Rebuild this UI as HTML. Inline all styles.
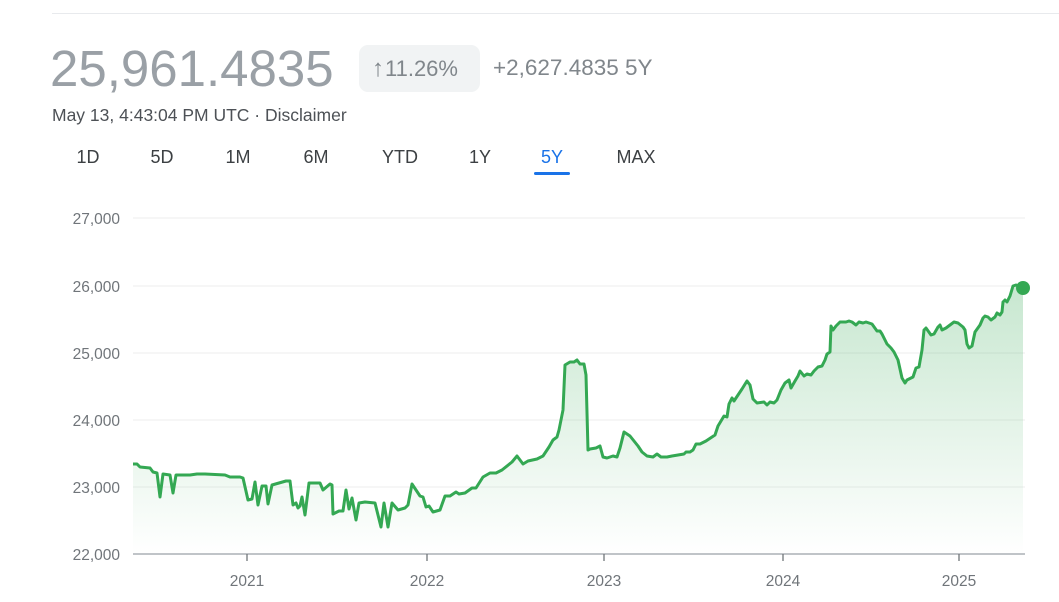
<!DOCTYPE html>
<html><head><meta charset="utf-8"><style>
body{margin:0;width:1059px;height:602px;background:#fff;font-family:"Liberation Sans",Arial,sans-serif;position:relative;overflow:hidden}
.a{position:absolute;white-space:nowrap}
.tab{position:absolute;top:147px;font-size:18px;color:#3c4043;transform:translateX(-50%)}
</style></head><body>
<div class="a" style="left:52px;right:0;top:13px;height:1px;background:#e8eaed"></div>
<div class="a" style="left:50px;top:39px;font-size:51px;color:#9aa0a6">25,961.4835</div>
<div class="a" style="left:359px;top:45px;width:121px;height:47px;border-radius:9px;background:#f1f3f4"></div>
<div class="a" style="left:372px;top:55px;font-size:22px;color:#80868b"><span style="font-size:24px;margin-right:1px">↑</span>11.26%</div>
<div class="a" style="left:493px;top:55px;font-size:22.5px;color:#80868b">+2,627.4835 5Y</div>
<div class="a" style="left:52px;top:105px;font-size:17.5px;color:#4d5156">May 13, 4:43:04 PM UTC · Disclaimer</div>
<div class="tab" style="left:88px">1D</div>
<div class="tab" style="left:162px">5D</div>
<div class="tab" style="left:238px">1M</div>
<div class="tab" style="left:316px">6M</div>
<div class="tab" style="left:400px">YTD</div>
<div class="tab" style="left:480px">1Y</div>
<div class="tab" style="left:552px;color:#1a73e8">5Y</div>
<div class="tab" style="left:636px">MAX</div>
<div class="a" style="left:534px;top:172px;width:36px;height:3px;border-radius:2px;background:#1a73e8"></div>
<svg class="a" style="left:0;top:0" width="1059" height="602">
<defs><linearGradient id="g" x1="0" y1="280" x2="0" y2="554" gradientUnits="userSpaceOnUse"><stop offset="0" stop-color="#34a853" stop-opacity="0.28"/><stop offset="1" stop-color="#34a853" stop-opacity="0"/></linearGradient></defs>
<g stroke="#eeeeee" stroke-width="1">
<line x1="133" x2="1025" y1="218" y2="218"/><line x1="133" x2="1025" y1="286" y2="286"/><line x1="133" x2="1025" y1="353" y2="353"/><line x1="133" x2="1025" y1="420" y2="420"/><line x1="133" x2="1025" y1="487" y2="487"/>
</g>
<g font-size="15.5" fill="#70757a" text-anchor="end">
<text x="120" y="224">27,000</text><text x="120" y="292">26,000</text><text x="120" y="359">25,000</text><text x="120" y="426">24,000</text><text x="120" y="493">23,000</text><text x="120" y="560">22,000</text>
</g>
<g font-size="15.5" fill="#70757a" text-anchor="middle">
<text x="247" y="586">2021</text><text x="427" y="586">2022</text><text x="604" y="586">2023</text><text x="783" y="586">2024</text><text x="959" y="586">2025</text>
</g>
<polygon fill="url(#g)" points="133,554 133,464 137,464 140,467 150,468 153,472 157,473 160,497 163,474 170,475 173,493 176,475 190,475 197,474 205,474 225,475 230,477 240,477 243,478 248,500 252,499 255,482 258,505 262,486 266,486 268,504 272,485 286,481 290,481 293,505 296,503 298,508 300,506 302,497 305,515 309,483 320,483 323,490 330,484 332,485 333,514 339,511 343,511 346,490 349,509 352,498 356,520 359,503 365,502 375,503 381,527 384,503 388,527 392,503 398,510 405,508 408,505 412,484 416,490 420,496 423,497 426,507 429,506 433,512 440,510 445,496 450,496 456,492 459,494 465,493 472,488 476,488 483,477 490,473 496,473 502,470 512,462 517,456 523,464 528,461 537,459 543,456 549,447 553,440 557,437 559,430 563,410 565,365 570,362 574,362 577,360 580,364 584,364 586,375 588,450 590,449 596,448 600,446 603,457 607,458 613,456 617,457 620,448 624,432 630,436 634,441 638,446 642,452 647,456 653,457 657,454 661,457 667,457 672,456 678,455 684,454 686,452 690,452 693,450 696,444 700,444 706,441 712,437 715,435 718,426 721,421 724,416 727,417 729,404 732,398 734,401 742,389 747,381 750,385 753,399 757,403 764,402 767,405 770,402 774,403 777,400 781,390 785,383 789,380 791,388 795,381 798,376 800,371 804,376 807,374 811,375 814,371 818,367 822,366 825,360 827,354 830,352 831,326 833,330 836,326 840,322 846,322 849,321 852,322 856,325 859,322 863,323 866,322 872,324 877,331 880,331 882,334 887,344 891,348 894,352 898,360 900,369 902,378 905,383 907,380 913,377 916,368 919,367 922,350 924,330 926,328 931,335 934,334 938,327 940,325 942,330 946,328 950,325 954,322 958,323 963,327 965,330 967,344 969,348 972,346 975,332 980,325 983,318 985,316 988,317 991,320 995,317 997,313 1000,315 1002,312 1003,302 1005,300 1007,302 1010,296 1013,286 1016,285 1023,288 1023,554"/>
<polyline fill="none" stroke="#34a853" stroke-width="3" stroke-linejoin="round" points="133,464 137,464 140,467 150,468 153,472 157,473 160,497 163,474 170,475 173,493 176,475 190,475 197,474 205,474 225,475 230,477 240,477 243,478 248,500 252,499 255,482 258,505 262,486 266,486 268,504 272,485 286,481 290,481 293,505 296,503 298,508 300,506 302,497 305,515 309,483 320,483 323,490 330,484 332,485 333,514 339,511 343,511 346,490 349,509 352,498 356,520 359,503 365,502 375,503 381,527 384,503 388,527 392,503 398,510 405,508 408,505 412,484 416,490 420,496 423,497 426,507 429,506 433,512 440,510 445,496 450,496 456,492 459,494 465,493 472,488 476,488 483,477 490,473 496,473 502,470 512,462 517,456 523,464 528,461 537,459 543,456 549,447 553,440 557,437 559,430 563,410 565,365 570,362 574,362 577,360 580,364 584,364 586,375 588,450 590,449 596,448 600,446 603,457 607,458 613,456 617,457 620,448 624,432 630,436 634,441 638,446 642,452 647,456 653,457 657,454 661,457 667,457 672,456 678,455 684,454 686,452 690,452 693,450 696,444 700,444 706,441 712,437 715,435 718,426 721,421 724,416 727,417 729,404 732,398 734,401 742,389 747,381 750,385 753,399 757,403 764,402 767,405 770,402 774,403 777,400 781,390 785,383 789,380 791,388 795,381 798,376 800,371 804,376 807,374 811,375 814,371 818,367 822,366 825,360 827,354 830,352 831,326 833,330 836,326 840,322 846,322 849,321 852,322 856,325 859,322 863,323 866,322 872,324 877,331 880,331 882,334 887,344 891,348 894,352 898,360 900,369 902,378 905,383 907,380 913,377 916,368 919,367 922,350 924,330 926,328 931,335 934,334 938,327 940,325 942,330 946,328 950,325 954,322 958,323 963,327 965,330 967,344 969,348 972,346 975,332 980,325 983,318 985,316 988,317 991,320 995,317 997,313 1000,315 1002,312 1003,302 1005,300 1007,302 1010,296 1013,286 1016,285 1023,288"/>
<line x1="133" x2="1025" y1="554" y2="554" stroke="#9aa0a6" stroke-width="1.3"/>
<g stroke="#70757a" stroke-width="1.3"><line x1="247" x2="247" y1="554" y2="561"/><line x1="427" x2="427" y1="554" y2="561"/><line x1="604" x2="604" y1="554" y2="561"/><line x1="783" x2="783" y1="554" y2="561"/><line x1="959" x2="959" y1="554" y2="561"/></g>
<circle cx="1023" cy="288" r="7" fill="#34a853"/>
</svg>
</body></html>
